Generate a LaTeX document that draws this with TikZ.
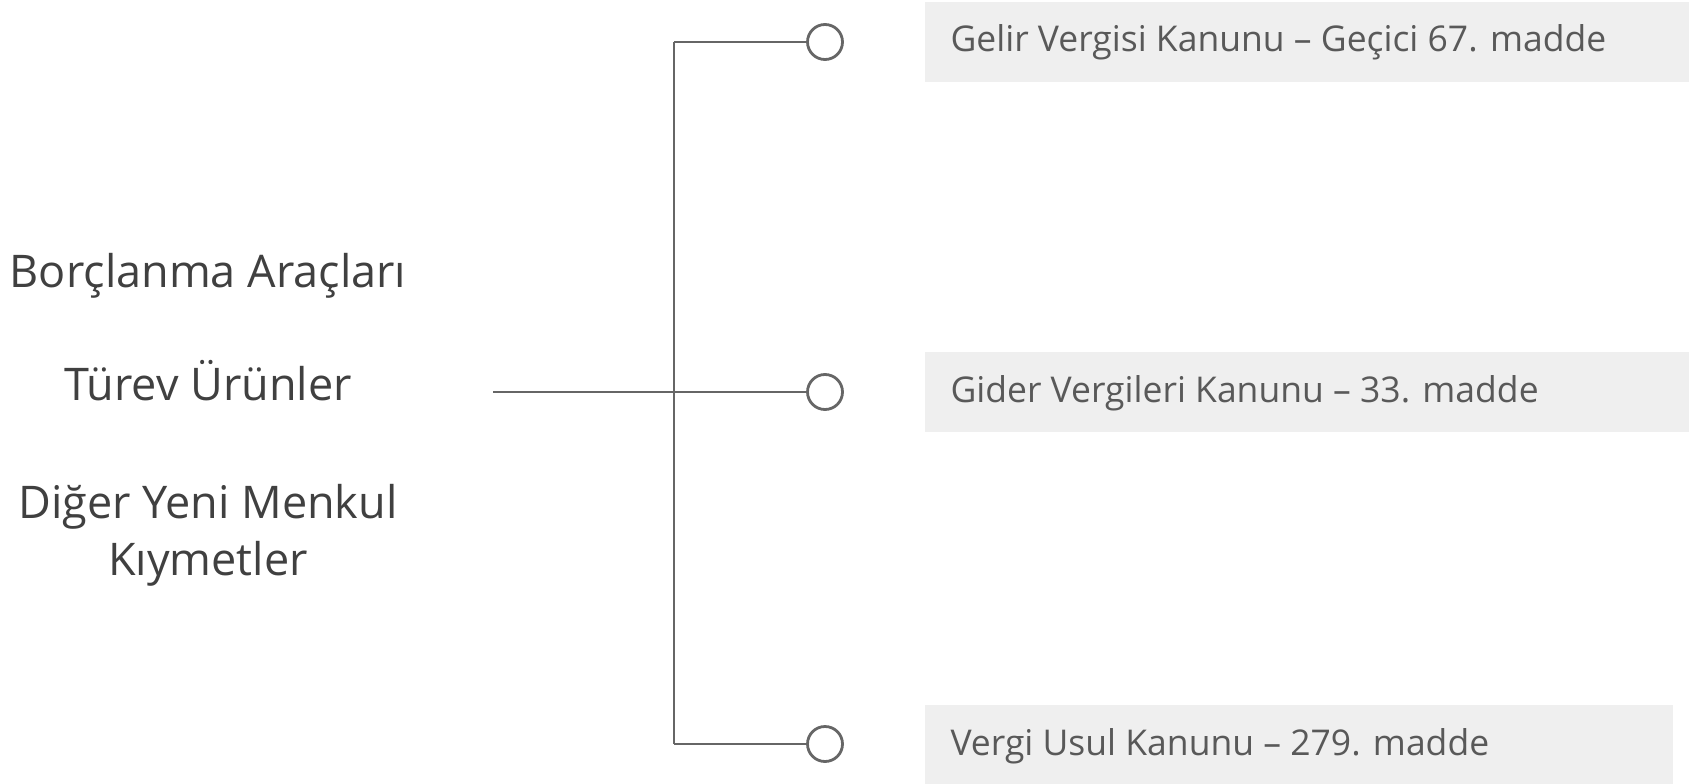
\documentclass[tikz,border=0pt]{standalone}
\usepackage{fontspec}
\setmainfont{Open Sans}
\definecolor{linegray}{HTML}{666666}
\definecolor{boxfill}{HTML}{EFEFEF}
\definecolor{lefttext}{HTML}{404040}
\definecolor{righttext}{HTML}{595959}
\begin{document}
\begin{tikzpicture}[x=1pt,y=-1pt,
  conn/.style={draw=linegray,line width=2.8pt},
  endcircle/.style={circle,draw=linegray,line width=2.8pt,fill=white,minimum size=35pt,inner sep=0pt},
  lawtext/.style={anchor=base west,text=righttext,font=\fontsize{35.5}{40}\selectfont},
  cattext/.style={anchor=base,text=lefttext,font=\fontsize{45}{57}\selectfont,align=center}]
\useasboundingbox (0,0) rectangle (1689,784);
% boxes
\fill[boxfill] (925,2) rectangle (1689,82);
\fill[boxfill] (925,352) rectangle (1689,432);
\fill[boxfill] (925,705) rectangle (1673,784);
% texts
\node[lawtext] (t1) at (947,52) {Gelir Vergisi Kanunu – Geçici 67. madde};
\node[lawtext] (t2) at (947,402) {Gider Vergileri Kanunu – 33. madde};
\node[lawtext] (t3) at (947,755) {Vergi Usul Kanunu – 279. madde};
\node[cattext] (c1) at (208,287) {Borçlanma Araçları};
\node[cattext] (c2) at (208,400) {Türev Ürünler};
\node[cattext] (c3) at (208,518) {Diğer Yeni Menkul};
\node[cattext] (c4) at (208,575) {Kıymetler};
% structure
\coordinate (src) at (493,392);
\coordinate (jt) at (674,42);
\coordinate (jm) at (674,392);
\coordinate (jb) at (674,744);
\node[endcircle] (e1) at (825,42) {};
\node[endcircle] (e2) at (825,392) {};
\node[endcircle] (e3) at (825,744) {};
\draw[conn] (jt) -- (jb);
\draw[conn] (jt) -- (e1);
\draw[conn] (src) -- (e2);
\draw[conn] (jb) -- (e3);
\end{tikzpicture}
\end{document}
